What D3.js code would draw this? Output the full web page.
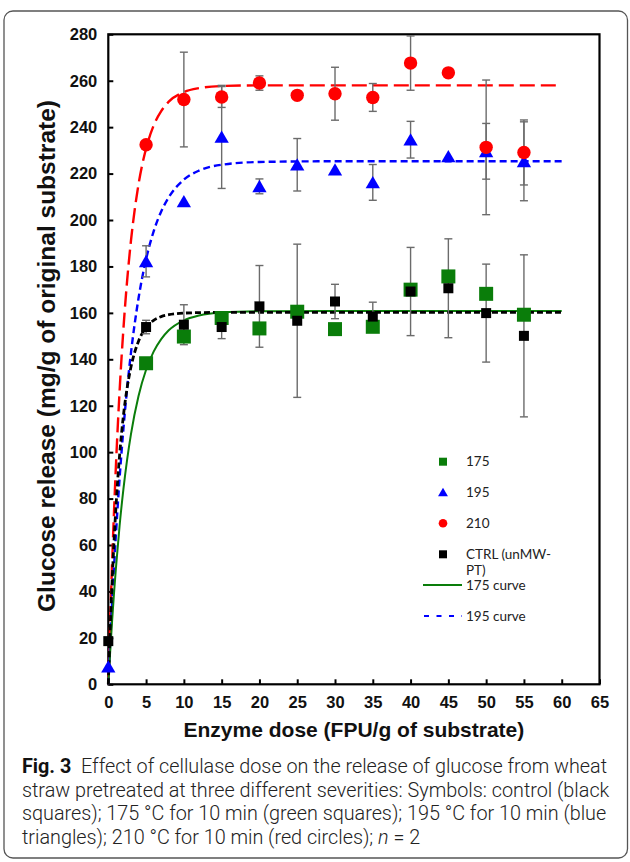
<!DOCTYPE html>
<html><head><meta charset="utf-8">
<script src="https://cdn.jsdelivr.net/npm/d3@7"></script>
<style>html,body{margin:0;padding:0;background:#fff}svg{display:block}</style>
</head><body>
<svg id="c" width="630" height="862"></svg>
<script>
// ---- data ----
const doses = [0,5,10,15,20,25,30,35,40,45,50,55];
const g175 = [null,138.3,149.8,157.8,153.3,160.5,153.0,154.0,170.0,175.7,168.2,159.2];
const b195 = [7.6,182.2,208.0,235.8,214.5,223.8,221.7,216.2,234.6,227.4,229.6,225.3];
const b195Err = [0,6.7,0,22.2,3.2,11.3,0,7.7,7.9,0,12.0,17.0];
const r210 = [null,232.4,251.9,253.0,259.0,253.7,254.4,252.8,267.6,263.4,231.3,229.1];
const r210Err = [0,0,20.4,4.5,3.1,0,11.4,6.0,11.7,0,29.0,14.0];
const ctrl = [18.6,153.9,154.9,153.9,162.8,156.6,164.9,158.4,169.2,170.6,159.9,150.1];
const ctrlErr = [0,2.9,8.6,5.0,17.6,33.0,7.4,6.2,19.0,21.3,21.1,34.9];

const curveX = [0,0.25,0.5,0.75,1,1.5,2,2.5,3,4,5,6,7,8,10,12,15,20,30,40,50,60];
const curve210 = [0,27.4,52.0,73.9,93.5,126.6,153.1,174.2,191.1,215.4,230.8,240.7,246.9,251.0,255.1,256.8,257.7,258,258,258,258,258];
const curve195 = [0,18.1,34.7,50.0,64.1,89.0,110.0,127.8,142.8,166.3,183.1,195.1,203.7,209.8,217.4,221.3,223.8,225.0,225.3,225.3,225.3,225.3];
const curveCtrl = [0,23.7,43.9,61.1,75.7,98.9,115.7,127.9,136.7,147.8,153.7,156.8,158.4,159.2,159.9,160.1,160.2,160.2,160.2,160.2,160.2,160.2];
const curve175 = [0,14.2,27.2,39.0,49.7,68.5,84.1,97.0,107.8,124.2,135.5,143.3,148.7,152.5,156.8,158.9,160.2,160.7,160.8,160.8,160.8,160.8];

const xTicks = [0,5,10,15,20,25,30,35,40,45,50,55,60,65];
const yTicks = [0,20,40,60,80,100,120,140,160,180,200,220,240,260,280];
const legendLabels = ["175","195","210","CTRL (unMW-|PT)","175 curve","195 curve"];
const captionLines = [
  ["Fig. 3", "  Effect of cellulase dose on the release of glucose from wheat"],
  [null, "straw pretreated at three different severities: Symbols: control (black"],
  [null, "squares); 175 °C for 10 min (green squares); 195 °C for 10 min (blue"],
  [null, "triangles); 210 °C for 10 min (red circles); "]
];

// ---- layout ----
const svg = d3.select("#c");
const L = 108.3, R = 599.5, T = 34.3, B = 684.3;
const x = d3.scaleLinear().domain([0,65]).range([L,R]);
const y = d3.scaleLinear().domain([0,280]).range([B,T]);
const GREEN = "#0a7d0a", BLUE = "#0000ff", RED = "#ff0000";

// outer figure frame
svg.append("rect").attr("x",4).attr("y",11).attr("width",623.5).attr("height",847)
  .attr("rx",9).attr("fill","none").attr("stroke","#555").attr("stroke-width",1.3);

// axes
const tf = "'Liberation Sans', Arial, sans-serif";
const yAxis = d3.axisLeft(y).tickValues(yTicks).tickSize(-5).tickPadding(11).tickFormat(d3.format("d"));
const xAxis = d3.axisBottom(x).tickValues(xTicks).tickSize(-5).tickPadding(10).tickFormat(d3.format("d"));
const ga = svg.append("g").attr("transform",`translate(${L},0)`).call(yAxis);
const gb = svg.append("g").attr("transform",`translate(0,${B})`).call(xAxis);
[ga,gb].forEach(g=>{
  g.select(".domain").remove();
  g.selectAll(".tick line").attr("stroke","#000").attr("stroke-width",2);
  g.selectAll(".tick text").attr("font-family",tf).attr("font-weight","bold").attr("font-size",16.5).attr("fill","#111");
});
gb.selectAll(".tick text").attr("dy",null).attr("y",null).attr("transform","translate(0,23.5)");

// frame
svg.append("rect").attr("x",L).attr("y",T).attr("width",R-L).attr("height",B-T)
  .attr("fill","none").attr("stroke","#000").attr("stroke-width",2.2);

// axis titles
svg.append("text").attr("x",(L+R)/2).attr("y",737).attr("text-anchor","middle")
  .attr("font-family",tf).attr("font-weight","bold").attr("font-size",21).attr("fill","#111")
  .text("Enzyme dose (FPU/g of substrate)");
svg.append("text").attr("transform","translate(55,356) rotate(-90)").attr("text-anchor","middle")
  .attr("font-family",tf).attr("font-weight","bold").attr("font-size",24.5).attr("fill","#111")
  .text("Glucose release (mg/g of original substrate)");

// curves
const line = d3.line().x((d,i)=>x(curveX[i])).y(d=>y(d)).curve(d3.curveMonotoneX);
const curves = [
  {v:curve210, c:RED, w:2.4, dash:"15,6"},
  {v:curve195, c:BLUE, w:2.4, dash:"7,4"},
  {v:curve175, c:GREEN, w:2, dash:null},
  {v:curveCtrl, c:"#000", w:2.8, dash:"6,3"}
];
curves.forEach(cv=>{
  svg.append("path").attr("d",line(cv.v)).attr("fill","none").attr("stroke",cv.c)
    .attr("stroke-width",cv.w).attr("stroke-dasharray",cv.dash);
});

// error bars
function errBars(vals, errs){
  const g = svg.append("g").attr("stroke","#6b6b6b").attr("stroke-width",1.4);
  doses.forEach((d,i)=>{
    if(vals[i]==null || !errs[i]) return;
    const cx = x(d), y1 = y(vals[i]-errs[i]), y2 = y(vals[i]+errs[i]);
    g.append("line").attr("x1",cx).attr("x2",cx).attr("y1",y1).attr("y2",y2);
    g.append("line").attr("x1",cx-4).attr("x2",cx+4).attr("y1",y1).attr("y2",y1);
    g.append("line").attr("x1",cx-4).attr("x2",cx+4).attr("y1",y2).attr("y2",y2);
  });
}
errBars(ctrl, ctrlErr);
errBars(b195, b195Err);
errBars(r210, r210Err);

// markers
const sq = (s)=>d3.symbol().type(d3.symbolSquare).size(s*s);
const tri = (w)=>`M0,${-w*0.5}L${w*0.55},${w*0.45}L${-w*0.55},${w*0.45}Z`;
function markers(vals, drawFn){
  doses.forEach((d,i)=>{ if(vals[i]!=null) drawFn(x(d), y(vals[i])); });
}
markers(g175,(cx,cy)=>svg.append("path").attr("d",sq(14)()).attr("transform",`translate(${cx},${cy})`).attr("fill",GREEN));
markers(b195,(cx,cy)=>svg.append("path").attr("d",tri(13)).attr("transform",`translate(${cx},${cy})`).attr("fill",BLUE));
markers(r210,(cx,cy)=>svg.append("circle").attr("cx",cx).attr("cy",cy).attr("r",6.7).attr("fill",RED));
markers(ctrl,(cx,cy)=>svg.append("path").attr("d",sq(10)()).attr("transform",`translate(${cx},${cy})`).attr("fill","#000"));

// legend
const lf = "Lato, 'Open Sans', sans-serif";
const lg = svg.append("g");
const lx = 443, tx = 466;
const rows = [461.7, 492.3, 523.3, 554.3, 585, 616];
lg.append("path").attr("d",sq(8)()).attr("transform",`translate(${lx},${rows[0]})`).attr("fill",GREEN);
lg.append("path").attr("d",tri(9)).attr("transform",`translate(${lx},${rows[1]})`).attr("fill",BLUE);
lg.append("circle").attr("cx",lx).attr("cy",rows[2]).attr("r",4.3).attr("fill",RED);
lg.append("path").attr("d",sq(8)()).attr("transform",`translate(${lx},${rows[3]})`).attr("fill","#000");
lg.append("line").attr("x1",423).attr("x2",462).attr("y1",rows[4]).attr("y2",rows[4]).attr("stroke",GREEN).attr("stroke-width",2);
lg.append("line").attr("x1",424).attr("x2",462).attr("y1",rows[5]).attr("y2",rows[5]).attr("stroke",BLUE).attr("stroke-width",2).attr("stroke-dasharray","5,7.5");
legendLabels.forEach((lab,i)=>{
  const parts = lab.split("|");
  parts.forEach((p,j)=>{
    lg.append("text").attr("x",tx).attr("y",rows[i]+4.7+j*15.7)
      .attr("font-family",lf).attr("font-size",13.5).attr("fill","#222").text(p);
  });
});

// caption: one common horizontal condensation, set by the longest line
const cf = "Roboto, 'Open Sans', sans-serif";
const capX = 22;
const capBase = [773, 797, 820, 844];
const capNodes = captionLines.map((ln,i)=>{
  const t = svg.append("text").attr("x",capX).attr("y",capBase[i]).attr("font-family",cf)
    .attr("font-size",19.5).attr("fill","#222").style("white-space","pre");
  if(ln[0]) t.append("tspan").attr("font-weight","bold").attr("fill","#111").text(ln[0]);
  t.append("tspan").attr("font-weight","300").text(ln[1]);
  if(i===3){
    t.append("tspan").attr("font-style","italic").attr("font-weight","300").text("n");
    t.append("tspan").attr("font-weight","300").text(" = 2");
  }
  return t;
});
const sCap = 588 / capNodes[1].node().getComputedTextLength();
capNodes.forEach(t=>t.attr("transform",`translate(${capX},0) scale(${sCap},1) translate(${-capX},0)`));
</script>
</body></html>
